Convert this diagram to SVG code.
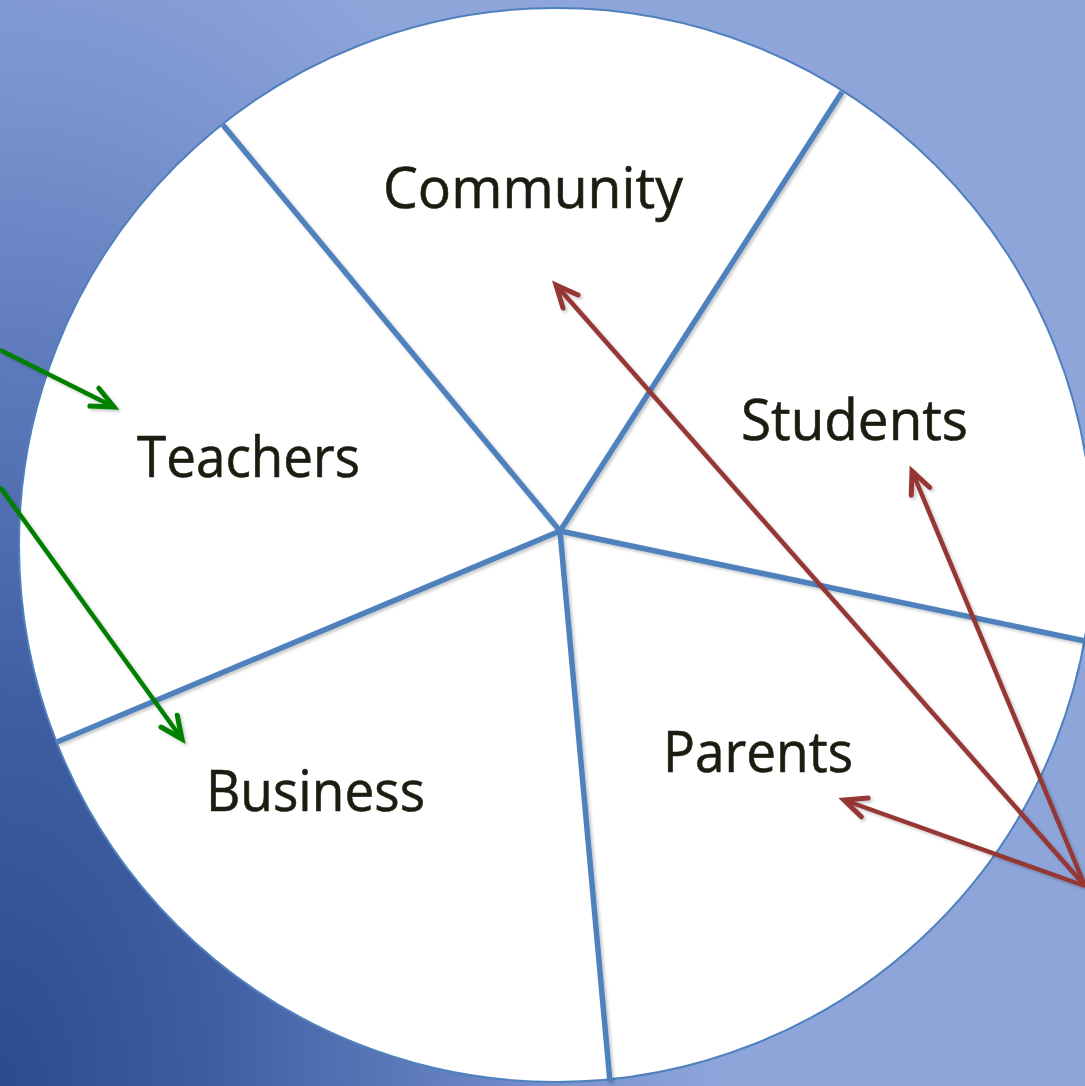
<svg xmlns="http://www.w3.org/2000/svg" width="1085" height="1086" viewBox="0 0 1085 1086">
<defs>
<radialGradient id="bg" cx="0" cy="0" r="1" gradientUnits="userSpaceOnUse" gradientTransform="translate(0,1086) scale(720,1250)">
<stop offset="0" stop-color="#2c4a8c"/>
<stop offset="0.3" stop-color="#3f5ea2"/>
<stop offset="0.55" stop-color="#5a77b9"/>
<stop offset="0.8" stop-color="#7a94cf"/>
<stop offset="1" stop-color="#8ea5da"/>
</radialGradient>
<filter id="sh" x="-10%" y="-10%" width="120%" height="120%">
<feDropShadow dx="2" dy="2" stdDeviation="1.5" flood-color="#000" flood-opacity="0.22"/>
</filter>
<marker id="ag" markerUnits="userSpaceOnUse" markerWidth="40" markerHeight="40" viewBox="-30 -20 40 40" refX="0" refY="0" orient="auto">
<path d="M-22,-10 L0,0 L-22,10" fill="none" stroke="#008000" stroke-width="5" stroke-linecap="round" stroke-linejoin="miter"/>
</marker>
<marker id="ar" markerUnits="userSpaceOnUse" markerWidth="40" markerHeight="40" viewBox="-30 -20 40 40" refX="0" refY="0" orient="auto">
<path d="M-22,-10 L0,0 L-22,10" fill="none" stroke="#953735" stroke-width="5" stroke-linecap="round" stroke-linejoin="miter"/>
</marker>
</defs>
<style>
.lbl{font-family:"Open Sans","Liberation Sans",sans-serif;font-size:57px;fill:#1e1c11;stroke:#1e1c11;stroke-width:0.6;}
.div{stroke:#4f81bd;stroke-width:5.5;fill:none;}
.g{stroke:#008000;stroke-width:4.5;fill:none;marker-end:url(#ag);}
.r{stroke:#953735;stroke-width:4.5;fill:none;marker-end:url(#ar);}
</style>
<rect x="0" y="0" width="1085" height="1086" fill="url(#bg)"/>
<g id="wheel">
<circle cx="556" cy="545" r="537" fill="#ffffff" stroke="#4f81bd" stroke-width="2"/>
</g>
<g id="dividers" filter="url(#sh)">
<line class="div" x1="560" y1="531" x2="223" y2="125"/>
<line class="div" x1="560" y1="531" x2="842" y2="92"/>
<line class="div" x1="560" y1="531" x2="1085" y2="641"/>
<line class="div" x1="560" y1="531" x2="610" y2="1082"/>
<line class="div" x1="560" y1="531" x2="57" y2="742"/>
</g>
<g id="community"><text class="lbl" x="383" y="208" textLength="300" lengthAdjust="spacingAndGlyphs">Community</text></g>
<g id="teachers"><text class="lbl" x="137" y="477" textLength="223" lengthAdjust="spacingAndGlyphs">Teachers</text></g>
<g id="students"><text class="lbl" x="741" y="440" textLength="227" lengthAdjust="spacingAndGlyphs">Students</text></g>
<g id="parents"><text class="lbl" x="663" y="772" textLength="190" lengthAdjust="spacingAndGlyphs">Parents</text></g>
<g id="business"><text class="lbl" x="206" y="811" textLength="219" lengthAdjust="spacingAndGlyphs">Business</text></g>
<g id="connectors" filter="url(#sh)">
<line class="g" x1="0" y1="350" x2="114" y2="407"/>
<line class="g" x1="0" y1="487" x2="182" y2="739"/>
<line class="r" x1="1085" y1="886" x2="556" y2="285"/>
<line class="r" x1="1085" y1="886" x2="912" y2="471"/>
<line class="r" x1="1085" y1="886" x2="844" y2="800"/>
</g>
</svg>
